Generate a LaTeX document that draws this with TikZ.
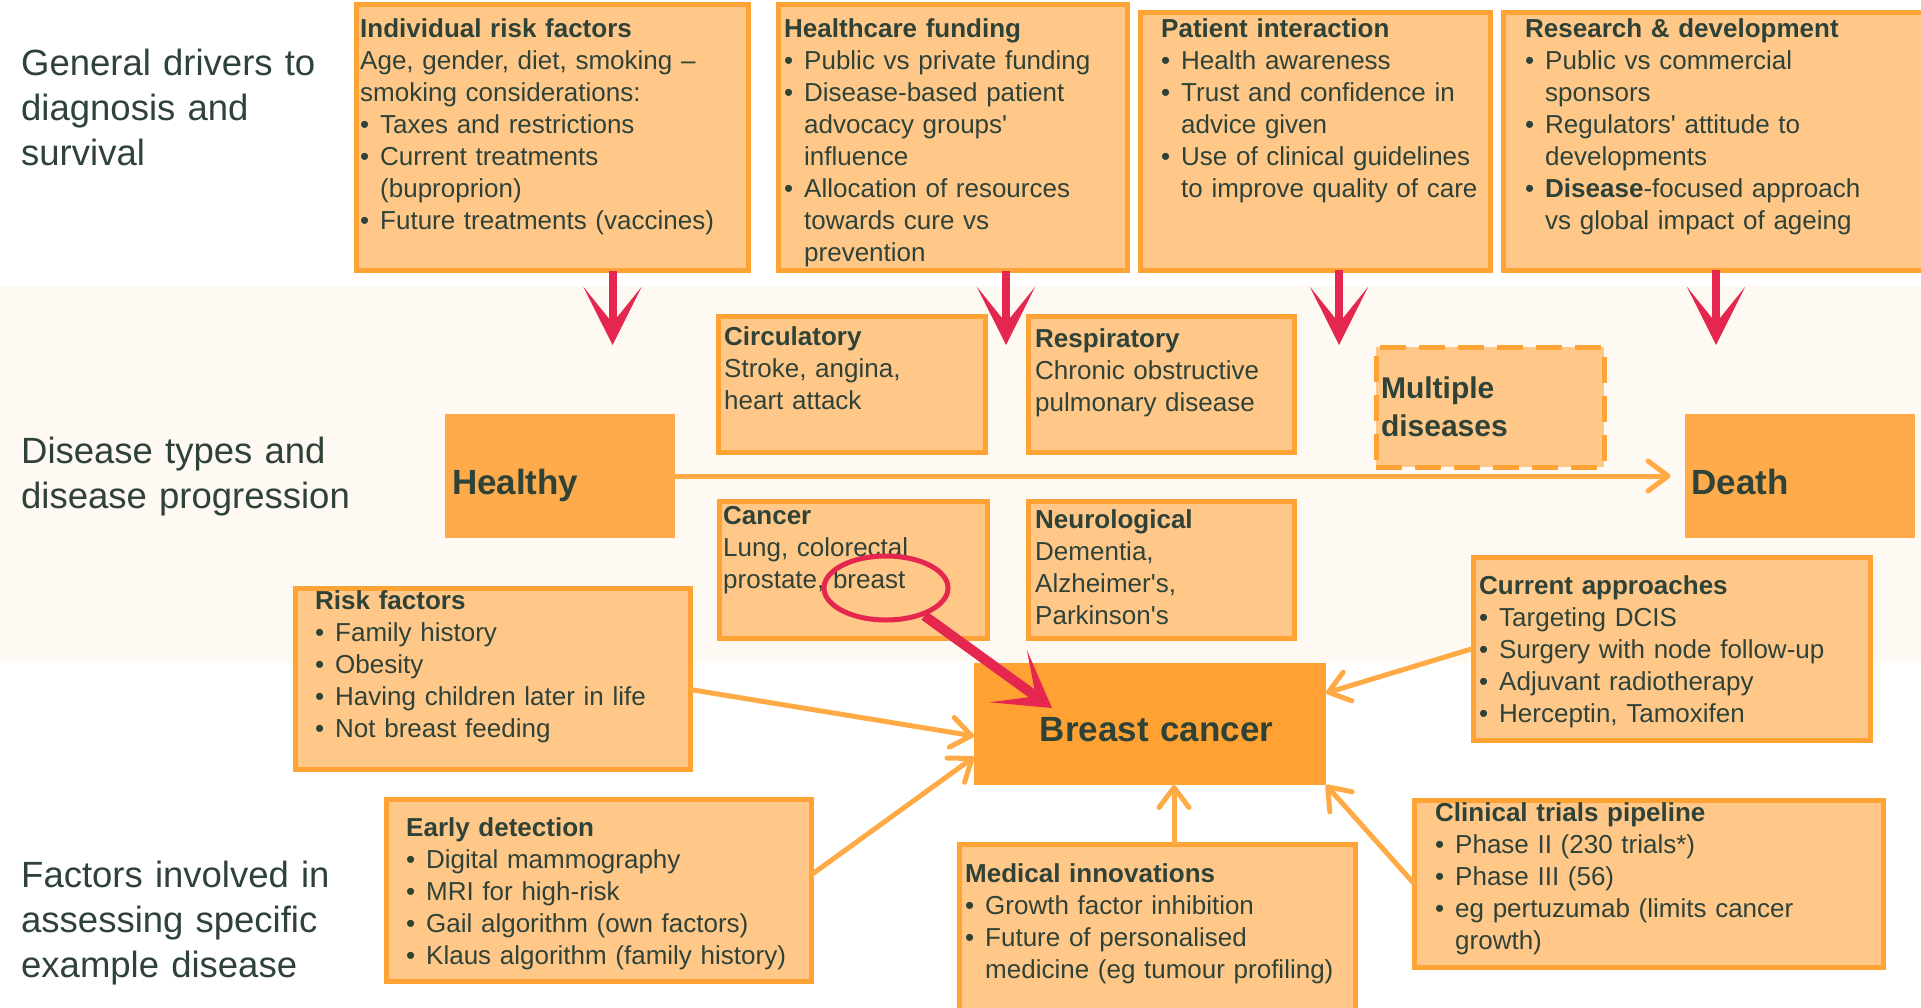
\documentclass[tikz,border=0pt]{standalone}
\usepackage{fontspec}
\setmainfont{Liberation Sans}
\usetikzlibrary{arrows.meta,positioning,shapes.geometric}

\definecolor{ink}{HTML}{2F4238}
\definecolor{panelfill}{HTML}{FFC889}
\definecolor{panelline}{HTML}{FFA334}
\definecolor{stagefill}{HTML}{FFAB4B}
\definecolor{focusfill}{HTML}{FFA233}
\definecolor{flow}{HTML}{FFAA45}
\definecolor{alert}{HTML}{E5264F}
\definecolor{band}{HTML}{FEF9F3}

\newcommand{\bul}{\par\hangindent=20pt\hangafter=1\noindent\makebox[20pt][l]{\textbullet}}
\newcommand{\qs}{\textquotesingle}

\begin{document}
\begin{tikzpicture}[x=1pt,y=-1pt,
  panel/.style={draw=panelline,fill=panelfill,line width=5pt,anchor=north west,inner sep=0pt,outer sep=0pt},
  body/.style={anchor=base west,inner sep=0pt,text width=#1,align=left,text=ink,font=\fontsize{26}{32}\selectfont},
  body/.default=400pt,
  stage/.style={fill=stagefill,anchor=north west,inner xsep=7pt,outer sep=0pt,text width=#1,align=left,
    minimum height=124pt,text height=36pt,text depth=0pt,text=ink,font=\fontsize{35}{42}\selectfont\bfseries},
  side/.style={anchor=base west,inner sep=0pt,text width=340pt,align=left,text=ink,font=\fontsize{36.5}{45}\selectfont},
  flowline/.style={every edge/.style={draw=flow,line width=5pt,-{Straight Barb[length=20pt,width=30pt,round]}}},
  alertline/.style={every edge/.style={draw=alert,line width=8pt,-{Stealth[length=58pt,width=58pt,inset=36pt]}}}]

  \useasboundingbox (0,0) rectangle (1921,1008);
  \fill[band] (0,285.5) rectangle (1921,662.8);

  \node[side] (drivers) at (21,76) {General drivers to\\diagnosis and\\survival};
  \node[side] (types) at (21,463) {Disease types and\\disease progression};
  \node[side] (factors) at (21,887) {Factors involved in\\assessing specific\\example disease};

  % general drivers
  \node[panel,minimum width=392pt,minimum height=266pt] (indiv) at (356.5,5) {};
  \node[panel,minimum width=349pt,minimum height=266pt] (funding) at (778,5) {};
  \node[panel,minimum width=350pt,minimum height=258pt] (patient) at (1140.6,12.3) {};
  \node[panel,minimum width=422pt,minimum height=258pt] (research) at (1503.2,12.3) {};

  \node[body] (indivtext) at (360,37.5) {\textbf{Individual risk factors}\\
    Age, gender, diet, smoking –\\smoking considerations:
    \bul Taxes and restrictions
    \bul Current treatments\newline(buproprion)
    \bul Future treatments (vaccines)\par};
  \node[body] (fundingtext) at (784,37.5) {\textbf{Healthcare funding}
    \bul Public vs private funding
    \bul Disease-based patient\newline advocacy groups\qs\newline influence
    \bul Allocation of resources\newline towards cure vs\newline prevention\par};
  \node[body] (patienttext) at (1161,37.5) {\textbf{Patient interaction}
    \bul Health awareness
    \bul Trust and confidence in\newline advice given
    \bul Use of clinical guidelines\newline to improve quality of care\par};
  \node[body] (researchtext) at (1525,37.5) {\textbf{Research \& development}
    \bul Public vs commercial\newline sponsors
    \bul Regulators\qs{} attitude to\newline developments
    \bul \textbf{Disease}-focused approach\newline vs global impact of ageing\par};

  % disease types
  \node[stage=216pt] (healthy) at (445,414) {Healthy};
  \node[stage=216pt] (death) at (1684.5,414) {Death};

  \node[panel,minimum width=267pt,minimum height=136pt] (circ) at (718,316) {};
  \node[panel,minimum width=266pt,minimum height=136pt] (resp) at (1028,316) {};
  \node[panel,minimum width=268pt,minimum height=137pt] (cancer) at (719,501) {};
  \node[panel,minimum width=266pt,minimum height=137pt] (neuro) at (1028,501) {};
  \node[panel,dash pattern=on 26pt off 13pt,inner xsep=5pt,text width=218pt,align=left,minimum height=120pt,
    text=ink,font=\fontsize{30}{38}\selectfont\bfseries] (multi) at (1376,347) {Multiple\\diseases};

  \node[body] (circtext) at (724,345) {\textbf{Circulatory}\\Stroke, angina,\\heart attack};
  \node[body] (resptext) at (1035,347) {\textbf{Respiratory}\\Chronic obstructive\\pulmonary disease};
  \node[body] (cancertext) at (723,524) {\textbf{Cancer}\\Lung, colorectal\\prostate, breast};
  \node[body] (neurotext) at (1035,528) {\textbf{Neurological}\\Dementia,\\Alzheimer\qs s,\\Parkinson\qs s};

  % breast cancer and its factors
  \node[stage=338pt,fill=focusfill,align=center,minimum height=122pt,text height=35pt] (bc) at (974,663) {\hspace*{13pt}Breast cancer};

  \node[panel,minimum width=395pt,minimum height=181pt] (risk) at (295,588) {};
  \node[panel,minimum width=397pt,minimum height=183pt] (current) at (1473,557) {};
  \node[panel,minimum width=425pt,minimum height=182pt] (early) at (386,799) {};
  \node[panel,minimum width=396pt,minimum height=175pt] (medical) at (959,844) {};
  \node[panel,minimum width=469pt,minimum height=167pt] (trials) at (1414,800) {};

  \node[body] (risktext) at (315,609.5) {\textbf{Risk factors}
    \bul Family history
    \bul Obesity
    \bul Having children later in life
    \bul Not breast feeding\par};
  \node[body] (currenttext) at (1479,594.5) {\textbf{Current approaches}
    \bul Targeting DCIS
    \bul Surgery with node follow-up
    \bul Adjuvant radiotherapy
    \bul Herceptin, Tamoxifen\par};
  \node[body] (earlytext) at (406,836) {\textbf{Early detection}
    \bul Digital mammography
    \bul MRI for high-risk
    \bul Gail algorithm (own factors)
    \bul Klaus algorithm (family history)\par};
  \node[body] (medicaltext) at (965,882) {\textbf{Medical innovations}
    \bul Growth factor inhibition
    \bul Future of personalised\newline medicine (eg tumour profiling)\par};
  \node[body] (trialstext) at (1435,821) {\textbf{Clinical trials pipeline}
    \bul Phase II (230 trials*)
    \bul Phase III (56)
    \bul eg pertuzumab (limits cancer\newline growth)\par};

  \path[flowline]
  (healthy) edge[shorten >=14pt] (death)
  ([yshift=-11pt]risk.east) edge ([yshift=-12pt]bc.west)
  ([yshift=15pt]early.east) edge ([yshift=-33pt]bc.west)
  ([xshift=17pt]medical.north) edge ([xshift=24pt]bc.south)
  (trials.west) edge (bc.south east)
  (current.west) edge ([yshift=31pt]bc.east)
  ;

  \coordinate (d1) at (612.5,345);
  \coordinate (d2) at (1006,345);
  \coordinate (d3) at (1339,345);
  \coordinate (d4) at (1716,345);
  \path[alertline]
  (d1 |- indiv.south) edge (d1)
  (d2 |- funding.south) edge (d2)
  (d3 |- patient.south) edge (d3)
  (d4 |- research.south) edge (d4)
  ;

  \node[draw=alert,line width=5pt,ellipse,minimum width=124pt,minimum height=64pt,inner sep=0pt] (lens) at (886,588) {};
  \coordinate (lenstip) at (1052,708);
  \draw[alert,line width=10pt,-{Stealth[length=54pt,width=64pt,inset=34pt]}] (lens) -- (lenstip);
\end{tikzpicture}
\end{document}
